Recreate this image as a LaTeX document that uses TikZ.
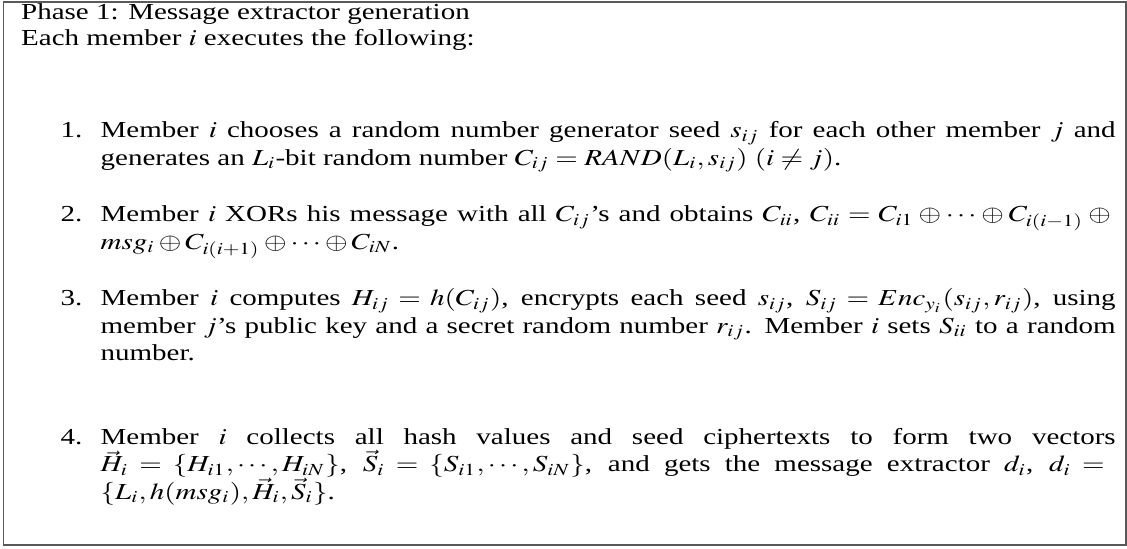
\documentclass[tikz,border=0pt]{standalone}
\usepackage{mathptmx}
\usepackage[no-math]{fontspec}
\setmainfont{Liberation Serif}
\tolerance=9999
\hyphenpenalty=10000
\exhyphenpenalty=10000
\lineskiplimit=-5pt
\begin{document}
\begin{tikzpicture}[x=1pt,y=1pt,
  txt/.style={anchor=base west, inner sep=0pt, font=\fontsize{10}{12}\selectfont},
  itemtext/.style={txt, text width=350pt, align=justify},
  itemnum/.style={anchor=base east, inner sep=0pt, font=\fontsize{10}{12}\selectfont},
  frame/.style={draw=black!65, line width=0.6pt}
]
\useasboundingbox (0,0) rectangle (388.6,-188.97);
% the whole panel is set at natural size and then compressed vertically
\begin{scope}[yscale=0.790, transform shape]
\draw[frame] (1.2,-0.9) rectangle (388.3,-238.0);

% heading
\node[txt] (title) at (7.1,-8.4) {Phase 1: Message extractor generation};
\node[txt] (intro) at (7.1,-20.0) {Each member $i$ executes the following:};

% step 1
\node[itemnum] (n1) at (28.6,-60.2) {1.};
\node[itemtext] (t1) at (34.5,-60.2) {Member $i$ chooses a random number generator seed $s_{ij}$ for each other member $j$ and\linebreak generates an $L_i$-bit random number $C_{ij}=RAND(L_i,s_{ij})$ $(i\neq j)$.};

% step 2
\node[itemnum] (n2) at (28.6,-96.9) {2.};
\node[itemtext] (t2) at (34.5,-96.9) {Member $i$ XORs his message with all $C_{ij}$'s and obtains $C_{ii}$, $C_{ii}=C_{i1}\oplus\cdots\oplus C_{i(i-1)}\oplus{}$\linebreak $msg_i\oplus C_{i(i+1)}\oplus\cdots\oplus C_{iN}$.};

% step 3
\node[itemnum] (n3) at (28.6,-133.5) {3.};
\node[itemtext] (t3) at (34.5,-133.5) {Member $i$ computes $H_{ij}=h(C_{ij})$, encrypts each seed $s_{ij}$, $S_{ij}=Enc_{y_i}(s_{ij},r_{ij})$, using\linebreak member $j$'s public key and a secret random number $r_{ij}$. Member $i$ sets $S_{ii}$ to a random\linebreak number.};

% step 4
\node[itemnum] (n4) at (28.6,-194.0) {4.};
\node[itemtext] (t4) at (34.5,-194.0) {Member $i$ collects all hash values and seed ciphertexts to form two vectors\linebreak $\vec{H}_i=\{H_{i1},\cdots,H_{iN}\}$, $\vec{S}_i=\{S_{i1},\cdots,S_{iN}\}$, and gets the message extractor $d_i$, $d_i={}$\linebreak $\{L_i,h(msg_i),\vec{H}_i,\vec{S}_i\}$.};
\end{scope}
\end{tikzpicture}
\end{document}
